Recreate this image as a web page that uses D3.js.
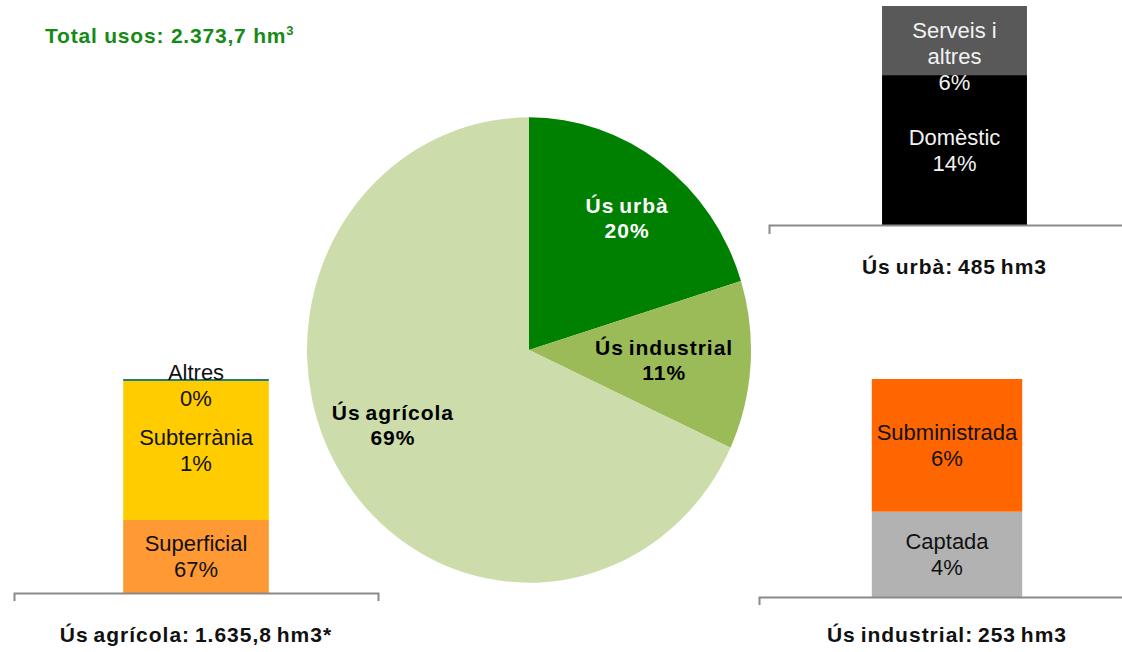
<!DOCTYPE html>
<html>
<head>
<meta charset="utf-8">
<script src="https://cdnjs.cloudflare.com/ajax/libs/d3/7.8.5/d3.min.js"></script>
<style>
  body { margin: 0; background: #fff; }
  text { font-family: "Liberation Sans", Arial, sans-serif; }
</style>
</head>
<body>
<div id="chart"></div>
<script>
// data (pie shares, labels as printed)
var pieCategories = ["Ús urbà", "Ús industrial", "Ús agrícola"];
var pieValues = [20.2, 11.7, 68.1];
var pieLabels = ["20%", "11%", "69%"];

var agriSegments = ["Superficial", "Subterrània", "Altres"];
var agriValues = [558, 1062, 15];
var agriLabels = ["67%", "1%", "0%"];

var urbSegments = ["Domèstic", "Serveis i\naltres"];
var urbValues = [332, 153];
var urbLabels = ["14%", "6%"];

var indSegments = ["Captada", "Subministrada"];
var indValues = [99, 154];
var indLabels = ["4%", "6%"];

var svgWidth = 1122;
var svgHeight = 652;

var svg = d3.select("#chart")
  .append("svg")
  .attr("width", svgWidth)
  .attr("height", svgHeight);

// title
var title = svg.append("text")
  .attr("x", 45)
  .attr("y", 43)
  .attr("fill", "#168a16")
  .attr("font-size", 21)
  .attr("font-weight", "bold")
  .attr("letter-spacing", 0.8)
  .text("Total usos: 2.373,7 hm");
title.append("tspan")
  .attr("font-size", 13)
  .attr("dy", -8)
  .text("3");

// pie
var pieColors = ["#008000", "#9BBB59", "#CCDCAB"];
var pieText = ["#ffffff", "#000000", "#000000"];
var labelK = [0.7, 0.61, 0.69];
var labelNudge = [[6, -1], [0, 1], [-7, -11]];
var cx = 529, cy = 350, r = 222, sy = 1.048;

var pie = d3.pie().sort(null).startAngle(0).endAngle(2 * Math.PI);
var arc = d3.arc().innerRadius(0).outerRadius(r);
var arcs = pie(pieValues);

svg.append("g")
  .attr("transform", `translate(${cx}, ${cy}) scale(1, ${sy})`)
  .selectAll("path")
  .data(arcs)
  .enter()
  .append("path")
  .attr("d", arc)
  .attr("fill", (d, i) => pieColors[i]);

arcs.forEach(function(d, i) {
  var mid = (d.startAngle + d.endAngle) / 2;
  var x = cx + labelK[i] * r * Math.sin(mid) + labelNudge[i][0];
  var y = cy - labelK[i] * r * Math.cos(mid) * sy + labelNudge[i][1];
  var t = svg.append("text")
    .attr("text-anchor", "middle")
    .attr("font-size", 21)
    .attr("font-weight", "bold")
    .attr("letter-spacing", 1)
    .attr("word-spacing", -2)
    .attr("fill", pieText[i]);
  t.append("tspan").attr("x", x).attr("y", y - 5).text(pieCategories[i]);
  t.append("tspan").attr("x", x).attr("y", y + 20).text(pieLabels[i]);
});

// small stacked bars
function stackBar(cfg, names, values, labels) {
  var x = d3.scaleBand()
    .domain([cfg.name])
    .range([cfg.x0, cfg.x1])
    .paddingInner(0)
    .paddingOuter(cfg.pad);
  var y = d3.scaleLinear()
    .domain([0, d3.sum(values)])
    .range([cfg.yBase, cfg.yTop]);
  var ends = Array.from(d3.cumsum(values));

  var g = svg.append("g");
  g.selectAll("rect")
    .data(values)
    .enter()
    .append("rect")
    .attr("x", x(cfg.name))
    .attr("width", x.bandwidth())
    .attr("y", (d, i) => y(ends[i]))
    .attr("height", (d, i) => y(ends[i] - d) - y(ends[i]))
    .attr("fill", (d, i) => cfg.colors[i]);

  var axis = g.append("g")
    .attr("transform", `translate(0, ${cfg.yBase})`)
    .call(d3.axisBottom(x).tickSizeInner(0).tickSizeOuter(cfg.tick).tickFormat(""));
  axis.select(".domain").attr("stroke", "#8a8a8a").attr("stroke-width", 2);
  axis.selectAll(".tick").remove();

  var cxBar = x(cfg.name) + x.bandwidth() / 2;
  values.forEach(function(v, i) {
    var c = (y(ends[i] - v) + y(ends[i])) / 2 + cfg.shift[i];
    var lines = names[i].split("\n").concat([labels[i]]);
    var lh = 26;
    var first = c - (lines.length - 1) * lh / 2 + 8;
    var t = g.append("text")
      .attr("text-anchor", "middle")
      .attr("font-size", 22)
      .attr("fill", cfg.textColor);
    lines.forEach(function(s, j) {
      t.append("tspan").attr("x", cxBar).attr("y", first + j * lh).text(s);
    });
  });

  g.append("text")
    .attr("x", cxBar)
    .attr("y", cfg.titleY)
    .attr("text-anchor", "middle")
    .attr("font-size", 21)
    .attr("font-weight", "bold")
    .attr("letter-spacing", 1)
    .attr("word-spacing", -2)
    .attr("fill", "#111")
    .text(cfg.title);
}

stackBar({
  name: "agri", x0: 14, x1: 378, pad: 0.75, yBase: 593, yTop: 379, tick: 8,
  colors: ["#FF9933", "#FFCC00", "#1F7A7A"], textColor: "#111", shift: [0, 0, 5],
  title: "Ús agrícola: 1.635,8 hm3*", titleY: 642
}, agriSegments, agriValues, agriLabels);

stackBar({
  name: "urb", x0: 769, x1: 1140, pad: 0.78, yBase: 225, yTop: 6, tick: 9,
  colors: ["#000000", "#595959"], textColor: "#f2f2f2", shift: [0, 15],
  title: "Ús urbà: 485 hm3", titleY: 274
}, urbSegments, urbValues, urbLabels);

stackBar({
  name: "ind", x0: 759, x1: 1135, pad: 0.75, yBase: 597, yTop: 379, tick: 8,
  colors: ["#B2B2B2", "#FF6600"], textColor: "#111", shift: [0, 0],
  title: "Ús industrial: 253 hm3", titleY: 642
}, indSegments, indValues, indLabels);
</script>
</body>
</html>
